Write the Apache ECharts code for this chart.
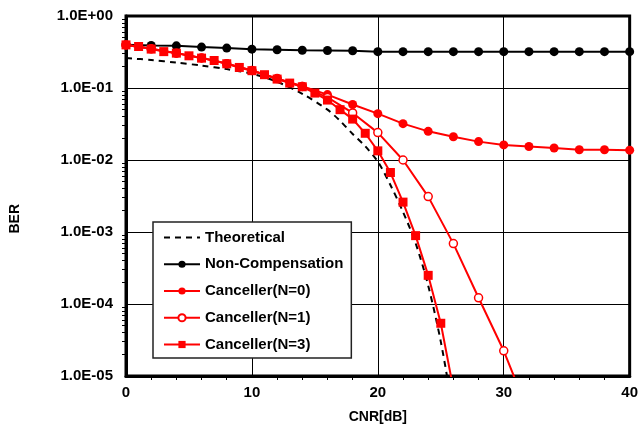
<!DOCTYPE html>
<html>
<head>
<meta charset="utf-8">
<script src="https://cdn.jsdelivr.net/npm/echarts@6/dist/echarts.min.js"></script>
<style>
  html, body { margin: 0; padding: 0; background: #fff; }
  #chart { width: 641px; height: 429px; }
</style>
</head>
<body>
<div id="chart"></div>
<script>
// CNR [dB] -> BER
const theoCnr = [0, 2, 4, 6, 8, 10, 12, 14, 16, 17, 18, 19, 20, 21, 22, 23, 24, 25, 26]
const theoBer = [0.26, 0.245, 0.225, 0.205, 0.183, 0.158, 0.122, 0.083, 0.05, 0.035, 0.023, 0.0155, 0.0095, 0.0045, 0.0019, 0.0007, 0.00018, 0.00003, 0.000003]

const stepCnr = [0, 2, 4, 6, 8, 10, 12, 14, 16, 18, 20, 22, 24, 26, 28, 30, 32, 34, 36, 38, 40]
const nonCompBer = [0.40, 0.39, 0.385, 0.37, 0.358, 0.346, 0.34, 0.334, 0.332, 0.329, 0.32, 0.32, 0.32, 0.32, 0.32, 0.32, 0.32, 0.32, 0.32, 0.32, 0.32]
const n0Ber = [0.397, 0.35, 0.305, 0.262, 0.218, 0.175, 0.136, 0.106, 0.081, 0.059, 0.044, 0.032, 0.025, 0.021, 0.018, 0.0162, 0.0154, 0.0147, 0.0139, 0.0139, 0.0137]

const n1Cnr = [0, 2, 4, 6, 8, 10, 12, 14, 16, 18, 20, 22, 24, 26, 28, 30, 32]
const n1Ber = [0.397, 0.35, 0.305, 0.262, 0.218, 0.175, 0.135, 0.105, 0.074, 0.045, 0.024, 0.0100, 0.0031, 0.00069, 0.000122, 0.0000224, 0.000003]

const n3Cnr = [0, 1, 2, 3, 4, 5, 6, 7, 8, 9, 10, 11, 12, 13, 14, 15, 16, 17, 18, 19, 20, 21, 22, 23, 24, 25, 26]
const n3Ber = [0.397, 0.377, 0.347, 0.32, 0.305, 0.28, 0.26, 0.241, 0.217, 0.193, 0.174, 0.153, 0.133, 0.117, 0.104, 0.085, 0.068, 0.05, 0.037, 0.0235, 0.0134, 0.0067, 0.0026, 0.00089, 0.00025, 0.000054, 0.0000066]

const yTickLabels = ['1.0E-05', '1.0E-04', '1.0E-03', '1.0E-02', '1.0E-01', '1.0E+00'] // exponent -5 .. 0
const legendNames = ['Theoretical', 'Non-Compensation', 'Canceller(N=0)', 'Canceller(N=1)', 'Canceller(N=3)']

const FONT = '"Liberation Sans", Arial, sans-serif'

function pairs(xs, ys) {
  return xs.map((x, i) => [x, ys[i]])
}

const chart = echarts.init(document.getElementById('chart'), null, { renderer: 'canvas' })

chart.setOption({
  animation: false,
  backgroundColor: '#fff',
  grid: {
    left: 126,
    right: 7,
    top: 16,
    bottom: 51,
    show: true,
    borderColor: '#000',
    borderWidth: 3,
    backgroundColor: 'transparent'
  },
  legend: {
    // the dashed line has no marker, hide the legend dot for it
    data: [
      { name: legendNames[0], itemStyle: { opacity: 0 } },
      legendNames[1], legendNames[2], legendNames[3], legendNames[4]
    ],
    orient: 'vertical',
    left: 153,
    top: 222,
    padding: [7, 8, 5, 10],
    itemWidth: 36,
    itemHeight: 9,
    itemGap: 9.75,
    backgroundColor: '#fff',
    borderColor: '#222',
    borderWidth: 1.5,
    textStyle: { fontFamily: FONT, fontWeight: 'bold', fontSize: 15, color: '#000', lineHeight: 17 }
  },
  graphic: [{
    type: 'text',
    left: 8,
    top: 204,
    rotation: Math.PI / 2,
    style: { text: 'BER', font: 'bold 14px ' + FONT, fill: '#000' }
  }],
  xAxis: {
    type: 'value',
    min: 0,
    max: 40,
    interval: 10,
    name: 'CNR[dB]',
    nameLocation: 'middle',
    nameGap: 34,
    nameTextStyle: { fontFamily: FONT, fontWeight: 'bold', fontSize: 14, color: '#000' },
    axisLine: { lineStyle: { color: '#000', width: 3 } },
    axisTick: { show: false },
    minorTick: { show: true, splitNumber: 5, length: 4, lineStyle: { color: '#000', width: 1 } },
    axisLabel: { margin: 9, fontFamily: FONT, fontWeight: 'bold', fontSize: 15, color: '#000' },
    splitLine: { show: true, lineStyle: { color: '#000', width: 1 } }
  },
  yAxis: {
    type: 'log',
    logBase: 10,
    min: 1e-5,
    max: 1,
    interval: 1,
    axisLine: { lineStyle: { color: '#000', width: 3 } },
    axisTick: { show: false },
    minorTick: { show: true, splitNumber: 9, length: 4, lineStyle: { color: '#000', width: 1 } },
    axisLabel: {
      margin: 13,
      fontFamily: FONT,
      fontWeight: 'bold',
      fontSize: 15,
      color: '#000',
      formatter: v => yTickLabels[Math.round(Math.log10(v)) + 5]
    },
    splitLine: { show: true, lineStyle: { color: '#000', width: 1 } }
  },
  series: [{
    name: legendNames[0],
    type: 'line',
    data: pairs(theoCnr, theoBer),
    symbol: 'none',
    smooth: 0.3,
    lineStyle: { color: '#000', width: 2, type: [6, 5] },
    itemStyle: { color: '#000' }
  }, {
    name: legendNames[1],
    type: 'line',
    data: pairs(stepCnr, nonCompBer),
    symbol: 'circle',
    symbolSize: 9,
    lineStyle: { color: '#000', width: 2 },
    itemStyle: { color: '#000' }
  }, {
    name: legendNames[2],
    type: 'line',
    data: pairs(stepCnr, n0Ber),
    symbol: 'circle',
    symbolSize: 9,
    lineStyle: { color: '#ff0000', width: 2 },
    itemStyle: { color: '#ff0000' }
  }, {
    name: legendNames[3],
    type: 'line',
    data: pairs(n1Cnr, n1Ber),
    symbol: 'circle',
    symbolSize: 8,
    lineStyle: { color: '#ff0000', width: 2 },
    itemStyle: { color: '#fff', borderColor: '#ff0000', borderWidth: 1.5 }
  }, {
    name: legendNames[4],
    type: 'line',
    data: pairs(n3Cnr, n3Ber),
    symbol: 'rect',
    symbolSize: 9,
    lineStyle: { color: '#ff0000', width: 2 },
    itemStyle: { color: '#ff0000' }
  }]
})
</script>
</body>
</html>
